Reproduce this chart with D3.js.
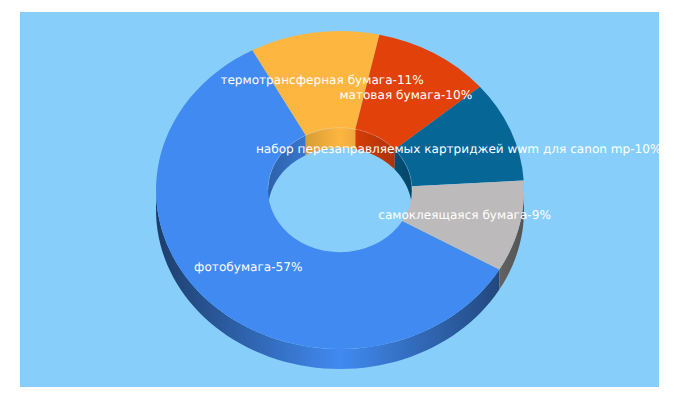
<!DOCTYPE html>
<html><head><meta charset="utf-8">
<script src="https://cdn.jsdelivr.net/npm/d3@7"></script>
<style>html,body{margin:0;padding:0;background:#fff}svg{display:block}</style>
</head><body><svg id="c" width="680" height="400"></svg>
<script>
const categories = ["фотобумага","термотрансферная бумага","матовая бумага","набор перезаправляемых картриджей wwm для canon mp","самоклеящаяся бумага"];
const percents = [57,11,10,10,9];
const colors = ["#418af1","#fdb640","#e24109","#066696","#bcbaba"];

const W=680,H=400, cx=340, cy=190, R=184, r=72, squash=159/184, depth=20;
const TAU=Math.PI*2, start=120*Math.PI/180;
const svg=d3.select("#c");
svg.append("rect").attr("x",20).attr("y",12).attr("width",639).attr("height",375).attr("fill","#87cefa");
const defs=svg.append("defs");

const pie=d3.pie().sort(null).value(d=>d.v).startAngle(start).endAngle(start+TAU);
const arcs=pie(categories.map((c,i)=>({c,v:percents[i],col:colors[i]})));
const arc=d3.arc().innerRadius(r).outerRadius(R);
const pt=(rad,t,off)=>[cx+rad*Math.sin(t), cy-rad*squash*Math.cos(t)+off];
const line=d3.line();

function wallGrad(id,col,x0,x1,edge){
  const g=defs.append("linearGradient").attr("id",id).attr("gradientUnits","userSpaceOnUse")
    .attr("x1",x0).attr("x2",x1).attr("y1",0).attr("y2",0);
  const c=d3.rgb(col), dark=d3.rgb(c.r*edge,c.g*edge,c.b*edge);
  [[0,dark],[.5,c],[1,dark]].forEach(([o,k])=>g.append("stop").attr("offset",o).attr("stop-color",k.formatHex()));
}
function visible(a,b,lo,hi){
  const out=[];
  for(let k=-1;k<=1;k++){const s=Math.max(a+k*TAU,lo),e=Math.min(b+k*TAU,hi); if(e>s) out.push([s,e]);}
  return out;
}
function wall(rad,s,e){
  const ts=d3.range(0,61).map(i=>s+(e-s)*i/60);
  return line(ts.map(t=>pt(rad,t,0)).concat(ts.slice().reverse().map(t=>pt(rad,t,depth))))+"Z";
}
arcs.forEach((a,i)=>{
  wallGrad("o"+i,a.data.col,cx-R,cx+R,.45);
  visible(a.startAngle,a.endAngle,Math.PI/2,Math.PI*1.5).forEach(([s,e])=>
    svg.append("path").attr("d",wall(R,s,e)).attr("fill",`url(#o${i})`));
});
arcs.forEach((a,i)=>{
  wallGrad("i"+i,a.data.col,cx-r,cx+r,.7);
  visible(a.startAngle,a.endAngle,-Math.PI/2,Math.PI/2).forEach(([s,e])=>
    svg.append("path").attr("d",wall(r,s,e)).attr("fill",`url(#i${i})`));
});
const surface=svg.append("g").attr("transform",`translate(${cx},${cy}) scale(1,${squash})`);
surface.selectAll("path").data(arcs).join("path").attr("d",arc).attr("fill",d=>d.data.col);
// faint highlight along the back rim of the hole
svg.append("path").attr("fill","none").attr("stroke","#fff").attr("stroke-opacity",.18)
  .attr("d",line(d3.range(0,61).map(i=>pt(r,-Math.PI/2+Math.PI*i/60,0))));
svg.append("g").selectAll("text").data(arcs).join("text")
  .attr("x",d=>cx+arc.centroid(d)[0]).attr("y",d=>cy+arc.centroid(d)[1]*squash+4)
  .attr("text-anchor","middle").attr("font-family","DejaVu Sans").attr("font-size",12.1)
  .attr("text-rendering","geometricPrecision").attr("fill","#fff")
  .text(d=>`${d.data.c}-${d.data.v}%`);
</script></body></html>
